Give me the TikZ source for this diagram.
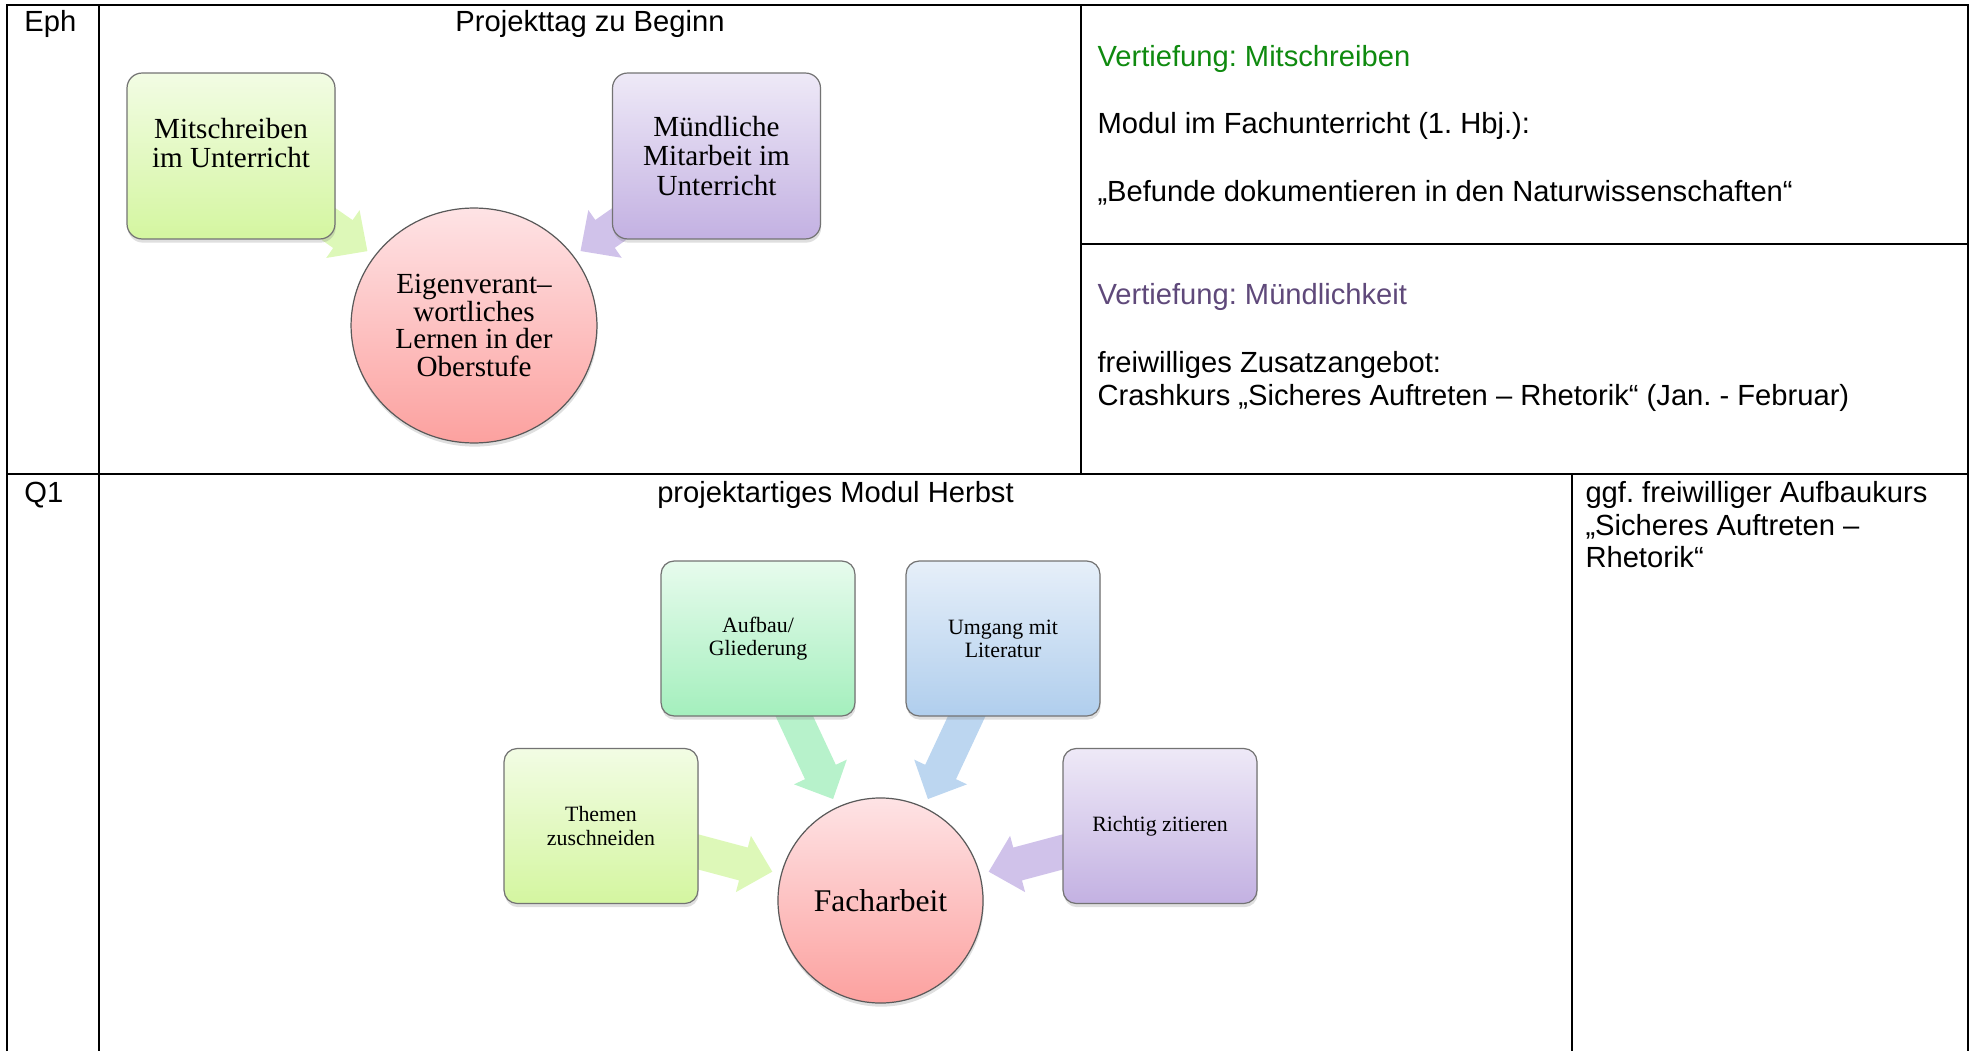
\documentclass[tikz,border=0pt]{standalone}
\usepackage{fontspec}
\setmainfont{Liberation Serif}
\newfontfamily\arialfont{Liberation Sans}
\usetikzlibrary{calc,shapes.geometric,shadows,backgrounds}
\frenchspacing

\definecolor{limeTop}{HTML}{F2FCE4}
\definecolor{limeBot}{HTML}{D4F6A0}
\definecolor{lilacTop}{HTML}{EEE9F7}
\definecolor{lilacBot}{HTML}{C3B1E2}
\definecolor{roseTop}{HTML}{FEE3E5}
\definecolor{roseBot}{HTML}{FCA19F}
\definecolor{mintTop}{HTML}{E7FBED}
\definecolor{mintBot}{HTML}{A4EFBD}
\definecolor{skyTop}{HTML}{E6EFF9}
\definecolor{skyBot}{HTML}{B0CEED}
\definecolor{limeArr}{HTML}{DDF8B8}
\definecolor{lilacArr}{HTML}{D0C2EA}
\definecolor{mintArr}{HTML}{B7F2CB}
\definecolor{skyArr}{HTML}{BCD6F0}
\definecolor{vgreen}{HTML}{0F8A0F}
\definecolor{vpurple}{HTML}{5F497A}

% block arrow from box #1 towards hub #2, tip #3 away from the hub centre
\newcommand{\blockarr}[4]{%
  \coordinate (tip) at ($(#2)!#3!(#1)$);
  \coordinate (hd) at ($(#2)!#3+12.3pt!(#1)$);
  \fill[#4] ($(#1)!7pt!90:(#2)$) -- ($(hd)!7pt!90:(#2)$) -- ($(hd)!12pt!90:(#2)$) -- (tip)
    -- ($(hd)!12pt!-90:(#2)$) -- ($(hd)!7pt!-90:(#2)$) -- ($(#1)!7pt!-90:(#2)$) -- cycle;}

\begin{document}
\begin{tikzpicture}[x=0.4116pt, y=-0.4116pt,
  cell/.style={font=\arialfont\fontsize{12}{13.8}\selectfont, inner sep=0pt, anchor=base west},
  head/.style={cell, anchor=base},
  soft/.style={drop shadow={shadow xshift=0.3pt, shadow yshift=-1.5pt, opacity=0.25}},
  ebox/.style={soft, draw=black!55, line width=0.5pt, rounded corners=6.2pt, minimum width=85.6pt,
    minimum height=68.3pt, align=center, inner sep=2pt, font=\fontsize{12}{12.2}\selectfont},
  qbox/.style={ebox, rounded corners=5.4pt, minimum width=79.8pt, minimum height=63.8pt,
    font=\fontsize{9}{9.5}\selectfont},
  hub/.style={soft, draw=black!65, line width=0.5pt, top color=roseTop, bottom color=roseBot,
    align=center, inner sep=0pt}]

\useasboundingbox (0,0) rectangle (1974,1051);

% table lines
\draw[line width=0.85pt] (7,1051) -- (7,5) -- (1968,5) -- (1968,1051);
\draw[line width=0.85pt] (7,474) -- (1968,474);
\draw[line width=0.85pt] (99,5) -- (99,1051);
\draw[line width=0.85pt] (1081,5) -- (1081,474);
\draw[line width=0.85pt] (1081,244) -- (1968,244);
\draw[line width=0.85pt] (1572,474) -- (1572,1051);

% Eph row
\node[cell] (eph) at (24,32) {Eph};
\node[head] (tag) at (590,32) {Projekttag zu Beginn};
\node[cell, text=vgreen] (vmit) at (1097,67) {Vertiefung: Mitschreiben};
\node[cell] (modul) at (1097,134) {Modul im Fachunterricht (1. Hbj.):};
\node[cell] (befund) at (1097,202) {„Befunde dokumentieren in den Naturwissenschaften“};
\node[cell, text=vpurple] (vmuend) at (1097,305) {Vertiefung: Mündlichkeit};
\node[cell] (frei) at (1097,372.5) {freiwilliges Zusatzangebot:};
\node[cell] (crash) at (1097,405) {Crashkurs „Sicheres Auftreten – Rhetorik“ (Jan. - Februar)};

\node[ebox, top color=limeTop, bottom color=limeBot] (mit) at (231,156) {Mitschreiben\\im Unterricht\\[-1.5pt]\mbox{}};
\node[ebox, top color=lilacTop, bottom color=lilacBot] (muend) at (716.5,156) {Mündliche\\Mitarbeit im\\Unterricht};
\node[hub, ellipse, minimum width=101.2pt, minimum height=96.7pt, font=\fontsize{12}{11.5}\selectfont] (eigen) at (474,325.5)
  {Eigenverant–\\wortliches\\Lernen in der\\Oberstufe};

% Q1 row
\node[cell] (q1) at (24,502) {Q1};
\node[head] (herbst) at (835.5,502) {projektartiges Modul Herbst};
\node[cell] (ggf) at (1585,502) {ggf. freiwilliger Aufbaukurs};
\node[cell] (sich) at (1585,535) {„Sicheres Auftreten –};
\node[cell] (rhet) at (1585,567.5) {Rhetorik“};

\node[qbox, top color=mintTop, bottom color=mintBot] (aufbau) at (758,638.5) {Aufbau/\\Gliederung};
\node[qbox, top color=skyTop, bottom color=skyBot] (umgang) at (1003,638.5) {Umgang mit\\Literatur};
\node[qbox, top color=limeTop, bottom color=limeBot] (themen) at (601,826) {Themen\\zuschneiden};
\node[qbox, top color=lilacTop, bottom color=lilacBot] (zitat) at (1160,826) {Richtig zitieren};
\node[hub, circle, minimum size=84.4pt, font=\fontsize{13}{15}\selectfont] (fach) at (880.5,900.5) {Facharbeit};

% arrows
\begin{scope}[on background layer]
\blockarr{mit}{eigen}{53.5pt}{limeArr}
\blockarr{muend}{eigen}{53.5pt}{lilacArr}
\blockarr{aufbau}{fach}{46.1pt}{mintArr}
\blockarr{umgang}{fach}{46.1pt}{skyArr}
\blockarr{themen}{fach}{46.1pt}{limeArr}
\blockarr{zitat}{fach}{46.1pt}{lilacArr}
\end{scope}

\end{tikzpicture}
\end{document}
